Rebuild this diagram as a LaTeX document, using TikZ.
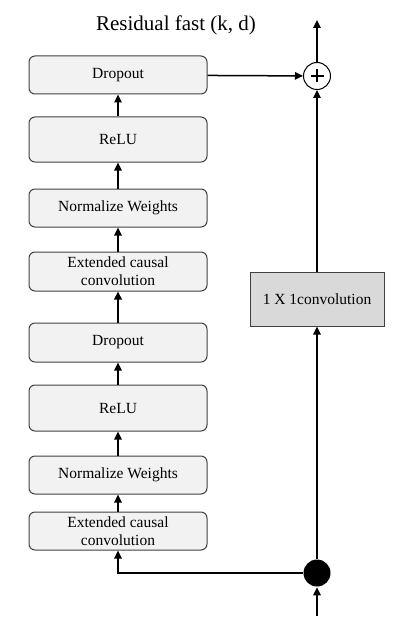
\documentclass[tikz,border=0pt]{standalone}
\usepackage{fontspec}
\setmainfont{Liberation Serif}
\usepackage{xcolor}
\usepackage{tikz}
\usetikzlibrary{arrows.meta}

\definecolor{boxgray}{HTML}{F2F2F2}
\definecolor{convgray}{HTML}{D9D9D9}

\begin{document}
\begin{tikzpicture}[x=1pt,y=-1pt,>={Triangle[length=8pt,width=7.5pt]},line width=1.5pt,
  layer/.style={draw=black!75,line width=1pt,rounded corners=6pt,fill=boxgray,minimum width=178pt,
    align=center,font=\fontsize{15.5}{18}\selectfont,inner sep=1pt},
  flow/.style={->,line width=1.5pt}]
  \useasboundingbox (0,0) rectangle (410,623);
  \node[font=\fontsize{21}{24}\selectfont] (title) at (176,25) {Residual fast (k, d)};
  % left column, top to bottom
  \node[layer,minimum height=38pt] (drop1) at (118,75) {Dropout};
  \node[layer,minimum height=45pt] (relu1) at (118,139.5) {ReLU};
  \node[layer,minimum height=38pt] (norm1) at (118,208) {Normalize Weights};
  \node[layer,minimum height=39pt] (conv1) at (118,271.5) {Extended causal\\convolution};
  \node[layer,minimum height=39pt] (drop2) at (118,342.5) {Dropout};
  \node[layer,minimum height=46pt] (relu2) at (118,408) {ReLU};
  \node[layer,minimum height=38pt] (norm2) at (118,475) {Normalize Weights};
  \node[layer,minimum height=38pt] (conv2) at (118,531) {Extended causal\\convolution};
  % residual branch
  \node[draw=black!75,line width=1pt,fill=convgray,minimum width=134pt,minimum height=54pt,
    font=\fontsize{15.5}{18}\selectfont] (skip) at (317,299) {1 X 1convolution};
  \node[circle,draw,fill=white,line width=1pt,minimum size=27pt,inner sep=0pt,
    path picture={\draw[line width=2.6pt] (path picture bounding box.center) ++(-6.5pt,0) -- ++(13pt,0)
      (path picture bounding box.center) ++(0,-6.5pt) -- ++(0,13pt);}] (sum) at (317,76) {};
  \node[circle,fill=black,minimum size=27pt,inner sep=0pt] (split) at (317,573) {};
  \coordinate (out) at (317,20);
  \coordinate (in) at (317,616);

  \draw[flow] (conv2) -- (norm2);
  \draw[flow] (norm2) -- (relu2);
  \draw[flow] (relu2) -- (drop2);
  \draw[flow,line width=2.4pt] (drop2) -- (conv1);
  \draw[flow] (conv1) -- (norm1);
  \draw[flow] (norm1) -- (relu1);
  \draw[flow] (relu1) -- (drop1);
  \draw[flow] (drop1) -- (sum);
  \draw[flow] (sum) -- (out);
  \draw[flow] (in) -- (split);
  \draw[flow] (split) -- (skip);
  \draw[flow] (skip) -- (sum);
  \draw[flow] (split) -| (conv2);
\end{tikzpicture}
\end{document}
